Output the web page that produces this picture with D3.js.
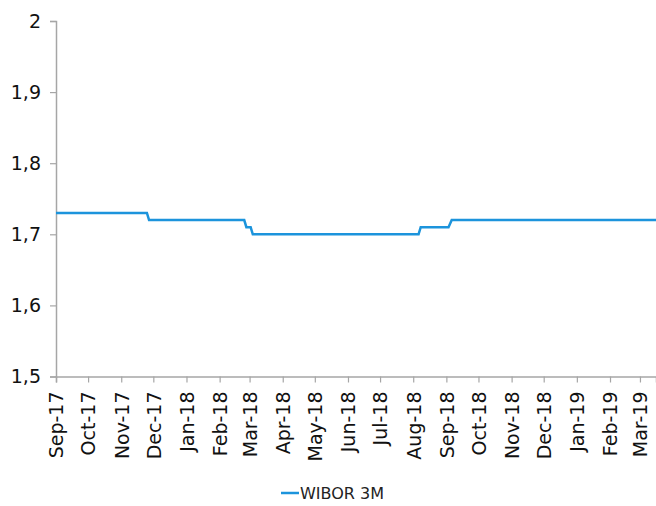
<!DOCTYPE html>
<html>
<head>
<meta charset="utf-8">
<script src="https://cdn.jsdelivr.net/npm/d3@7"></script>
<style>
  html, body { margin: 0; padding: 0; background: #fff; }
  svg { display: block; font-family: "DejaVu Sans", Verdana, sans-serif; }
</style>
</head>
<body>
<svg id="chart" width="656" height="506"></svg>
<script>
// WIBOR 3M fixing: dates where the rate changes (value before and after each step)
const dates  = ["2017-09-01", "2017-11-25", "2017-11-27", "2018-02-24", "2018-02-26",
                "2018-03-02", "2018-03-04", "2018-08-06", "2018-08-08", "2018-09-03",
                "2018-09-06", "2019-03-16"];
const values = [1.73, 1.73, 1.72, 1.72, 1.71, 1.71, 1.70, 1.70, 1.71, 1.71, 1.72, 1.72];
const seriesName = "WIBOR 3M";
const yTicks = [1.5, 1.6, 1.7, 1.8, 1.9, 2];
const xDomain = ["2017-09-01", "2019-03-16"];

(function () {
  const parse = d3.utcParse("%Y-%m-%d");
  const data = dates.map((d, i) => ({ date: parse(d), value: values[i] }));

  const svg = d3.select("#chart");
  const fontFamily = "'DejaVu Sans', Verdana, sans-serif";
  const plotLeft = 56, plotRight = 656, plotTop = 21, plotBottom = 376.5;

  const x = d3.scaleUtc().domain(xDomain.map(parse)).range([plotLeft, plotRight]);
  const y = d3.scaleLinear().domain([1.5, 2]).range([plotBottom, plotTop]);

  const plLocale = d3.formatLocale({ decimal: ",", thousands: " ", grouping: [3], currency: ["", " zł"] });
  const yFmt = plLocale.format("~g");
  const xFmt = d3.utcFormat("%b-%y");
  const axisColor = "#a6a6a6";

  // Y axis
  const gy = svg.append("g")
    .attr("transform", `translate(${plotLeft},0)`)
    .call(d3.axisLeft(y).tickValues(yTicks).tickFormat(yFmt).tickSize(6).tickPadding(9));
  gy.attr("font-family", fontFamily);
  gy.selectAll("text").attr("font-size", 19).attr("fill", "#111");

  // X axis with rotated month labels
  const gx = svg.append("g")
    .attr("transform", `translate(0,${plotBottom})`)
    .call(d3.axisBottom(x).ticks(d3.utcMonth.every(1)).tickFormat(xFmt).tickSize(6).tickPadding(0));
  gx.attr("font-family", fontFamily);
  gx.selectAll("text")
    .attr("font-size", 19)
    .attr("fill", "#111")
    .attr("text-anchor", "end")
    .attr("transform", "rotate(-90)")
    .attr("x", -15)
    .attr("y", 0)
    .attr("dy", "0.36em");

  [gx, gy].forEach(g => {
    g.select(".domain").attr("stroke", axisColor).attr("stroke-width", 1.5);
    g.selectAll(".tick line").attr("stroke", axisColor).attr("stroke-width", 1.2);
  });

  // Series line
  const line = d3.line().x(d => x(d.date)).y(d => y(d.value));
  svg.append("path")
    .datum(data)
    .attr("fill", "none")
    .attr("stroke", "#1c94dc")
    .attr("stroke-width", 2.5)
    .attr("d", line);

  // Legend
  const lg = svg.append("g").attr("transform", "translate(281,493)");
  lg.append("line").attr("x1", 0).attr("x2", 18).attr("y1", 0).attr("y2", 0)
    .attr("stroke", "#1c94dc").attr("stroke-width", 2.5);
  lg.append("text").attr("x", 19).attr("y", 0).attr("dy", "0.36em")
    .attr("font-family", fontFamily)
    .attr("font-size", 16).attr("fill", "#222").text(seriesName);
})();
</script>
</body>
</html>
